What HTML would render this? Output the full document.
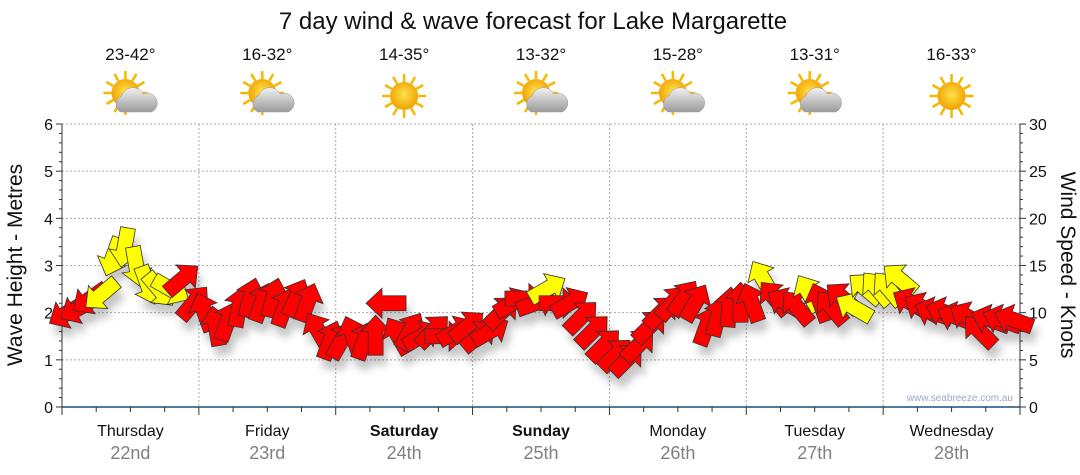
<!DOCTYPE html>
<html><head><meta charset="utf-8"><style>
body{margin:0;background:#fff;font-family:"Liberation Sans",sans-serif;}
svg{display:block}
</style></head><body>
<svg id="chart" width="1080" height="475">
<defs>
<filter id="sh" x="-50%" y="-50%" width="200%" height="200%"><feGaussianBlur stdDeviation="4"/></filter>
<radialGradient id="sun" cx="50%" cy="45%" r="55%"><stop offset="0" stop-color="#ffe24a"/><stop offset="1" stop-color="#f0a000"/></radialGradient>
<linearGradient id="cloud" x1="0" y1="0" x2="0" y2="1"><stop offset="0" stop-color="#f2f2f2"/><stop offset="1" stop-color="#9a9a9a"/></linearGradient>
</defs>
<text x="533" y="29" font-size="24" text-anchor="middle" fill="#111">7 day wind &amp; wave forecast for Lake Margarette</text>
<g id="grid"></g><g id="axes"></g><g id="icons"></g>
<g id="shadows" filter="url(#sh)" opacity="0.3"></g>
<g id="arrows"></g>
<text x="1013" y="401" font-size="10" text-anchor="end" fill="#9aa8c0">www.seabreeze.com.au</text>
<text transform="translate(22,265) rotate(-90)" font-size="21" text-anchor="middle" fill="#111">Wave Height - Metres</text>
<text transform="translate(1061,265) rotate(90)" font-size="21" text-anchor="middle" fill="#111">Wind Speed - Knots</text>
</svg>
<script>
const days=["Thursday","Friday","Saturday","Sunday","Monday","Tuesday","Wednesday"];
const dates=["22nd","23rd","24th","25th","26th","27th","28th"];
const boldDays=[0,0,1,1,0,0,0];
const temps=["23-42°","16-32°","14-35°","13-32°","15-28°","13-31°","16-33°"];
const cloudy=[1,1,0,1,1,1,0];
const leftTicks=[0,1,2,3,4,5,6];
const rightTicks=[0,5,10,15,20,25,30];
const speeds=[10,10.5,11.5,12,16,17,15,13,12.5,12.5,13.5,11,
10,8.5,9,10.5,11.5,11,11.5,10.5,11.5,11,8,7,
7,7.5,7,7.5,11,7.5,8,7.5,8,7.5,8,8.5,
7.5,8,10,11,11.5,11,12.5,11,11,9.5,8,6.5,
5.5,5,6.5,8.5,10,11,11.5,11,8.5,9.5,10.5,11,
11,13.5,11.5,11,10.5,12,11,10.5,11.5,10.5,12.5,12.5,
12.5,13.5,11,10.5,10,10,9.5,9.5,8,9.2,9.2,9.2];
const dirs=[240,240,235,230,200,190,170,160,140,120,50,40,
340,350,20,10,15,20,15,20,25,20,330,20,
30,340,20,0,270,330,30,60,45,90,60,50,
50,60,45,60,90,70,60,90,60,45,45,45,
45,45,45,45,45,40,35,30,20,15,5,0,
340,330,320,300,320,330,340,320,310,300,310,320,
320,310,300,300,290,290,290,300,315,290,290,290];
const gusty=[0,0,0,1,1,1,1,1,1,1,0,0,
0,0,0,0,0,0,0,0,0,0,0,0,
0,0,0,0,0,0,0,0,0,0,0,0,
0,0,0,0,0,0,1,0,0,0,0,0,
0,0,0,0,0,0,0,0,0,0,0,0,
0,1,0,0,0,1,0,0,0,1,1,1,
1,1,0,0,0,0,0,0,0,0,0,0];
const NS="http://www.w3.org/2000/svg";
const X0=62,X1=1020,Y0=407,Y1=124,DW=(X1-X0)/7;
const yL=v=>Y0-(Y0-Y1)*v/6, yR=v=>Y0-(Y0-Y1)*v/30, xT=h=>X0+DW*h/24;
function mk(p,tag,a){const e=document.createElementNS(NS,tag);for(const k in a)e.setAttribute(k,a[k]);p.appendChild(e);return e;}
const G=id=>document.getElementById(id);
const grid=G('grid'),axes=G('axes'),icons=G('icons');
leftTicks.forEach(v=>{if(v>0){const l=mk(grid,'line',{x1:X0,x2:X1,y1:yL(v),y2:yL(v),stroke:'#aaa','stroke-dasharray':'2,2'});

}
const t=mk(axes,'text',{x:X0-9,y:yL(v)+6,'font-size':16,'text-anchor':'end',fill:'#111'});t.textContent=v;

});
rightTicks.forEach(v=>{const t=mk(axes,'text',{x:X1+9,y:yR(v)+6,'font-size':16,fill:'#111'});t.textContent=v;

});
for(let i=0;i<=30;i++){const y=yR(i),w=i%5==0?6:3;mk(axes,'line',{x1:X0-w,x2:X0,y1:y,y2:y,stroke:'#333'});mk(axes,'line',{x1:X1,x2:X1+w,y1:y,y2:y,stroke:'#333'});}
mk(axes,'line',{x1:X0,x2:X0,y1:Y1,y2:Y0+7,stroke:'#333'});
mk(axes,'line',{x1:X1,x2:X1,y1:Y1,y2:Y0+7,stroke:'#333'});
mk(axes,'line',{x1:X0,x2:X1,y1:Y0,y2:Y0,stroke:'#1a4d7a','stroke-width':1.5});
for(let i=0;i<=28;i++){const x=X0+DW*i/4;mk(axes,'line',{x1:x,x2:x,y1:Y0,y2:Y0+(i%4==0?8:5),stroke:'#333'});}
days.forEach((d,i)=>{const cx=X0+DW*(i+0.5);
if(i>0){const l=mk(grid,'line',{x1:X0+DW*i,x2:X0+DW*i,y1:Y1,y2:Y0,stroke:'#aaa','stroke-dasharray':'2,2'});

}
const t=mk(axes,'text',{x:cx,y:436,'font-size':16,'text-anchor':'middle',fill:'#111','font-weight':boldDays[i]?'bold':'normal'});t.textContent=d;


const t2=mk(axes,'text',{x:cx,y:459,'font-size':18,'text-anchor':'middle',fill:'#808080'});t2.textContent=dates[i];


const t3=mk(icons,'text',{x:cx,y:60,'font-size':17,'text-anchor':'middle',fill:'#111'});t3.textContent=temps[i];


const g=mk(icons,'g',{transform:`translate(${cx},96)`});


const sx=cloudy[i]?-5:0,sy=cloudy[i]?-3:0;
for(let k=0;k<12;k++){const a=k*30*Math.PI/180;mk(g,'line',{x1:sx+Math.cos(a)*14,y1:sy+Math.sin(a)*14,x2:sx+Math.cos(a)*22,y2:sy+Math.sin(a)*22,stroke:'#f4b800','stroke-width':2.5});}
mk(g,'circle',{cx:sx,cy:sy,r:14,fill:'url(#sun)'});
if(cloudy[i]){mk(g,'path',{d:'M-10,16 a9,9 0 0 1 1,-16 a12,12 0 0 1 22,-2 a9,9 0 0 1 8,18 z',fill:'url(#cloud)',stroke:'#999','stroke-width':0.5});}
});
const sh=G('shadows'),ar=G('arrows');
const P='M0,-21 L15,-5 L7.5,-5 L7.5,19 L-7.5,19 L-7.5,-5 L-15,-5 Z';
speeds.forEach((s,i)=>{const x=xT(i*2+1),y=yR(s);
mk(sh,'path',{d:P,fill:'#444',transform:`translate(${x+4},${y+10}) rotate(${dirs[i]})`});
const a=mk(ar,'path',{d:P,fill:gusty[i]?'#ffff00':'#ff0000',stroke:'#333','stroke-width':0.8,transform:`translate(${x},${y}) rotate(${dirs[i]})`});

});
</script>
</body></html>
